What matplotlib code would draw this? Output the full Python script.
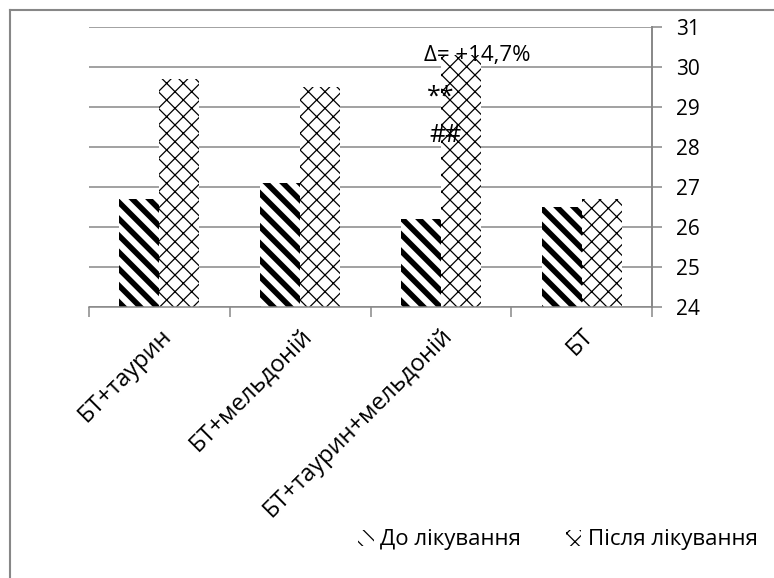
import numpy as np
import matplotlib
matplotlib.use('Agg')
import matplotlib.pyplot as plt
from matplotlib.lines import Line2D

plt.rcParams['font.family'] = ['Open Sans', 'DejaVu Sans']

categories = ['БТ+таурин', 'БТ+мельдоній', 'БТ+таурин+мельдоній', 'БТ']
before = [26.7, 27.1, 26.2, 26.5]
after = [29.7, 29.5, 30.3, 26.7]
series_names = ['До лікування', 'Після лікування']
yticks = [24, 25, 26, 27, 28, 29, 30, 31]

fig = plt.figure(figsize=(7.74, 5.78), dpi=100)
ax = fig.add_axes([89/774, 1-307/578, (652-89)/774, 280/578])

x = np.arange(len(categories))
w = 0.284
grey = '#878787'

ax.set_ylim(24, 31)
ax.set_xlim(-0.5, 3.5)
ax.set_yticks(yticks)
ax.yaxis.grid(True, color=grey, linewidth=1.1)
ax.set_axisbelow(True)

# thick diagonal stripes for "before", fine cross-hatch for "after"
plt.rcParams['hatch.linewidth'] = 4.0
b1 = ax.bar(x - w/2, before, w, color='white', edgecolor='black',
            linewidth=0, hatch='\\\\')
plt.rcParams['hatch.linewidth'] = 0.9
b2 = ax.bar(x + w/2, after, w, color='white', edgecolor='black',
            linewidth=0, hatch='xx')

# annotations over the third group
ax.text(2 - 0.12, 30.3, 'Δ= +14,7%', fontsize=16, ha='left', va='center')
ax.text(2, 29.25, '**', fontsize=18, ha='center', va='center')
ax.text(2.03, 28.3, '##', fontsize=18, ha='center', va='center')

ax.yaxis.tick_right()
ax.tick_params(axis='y', length=7, color=grey, width=1.1, labelsize=15, pad=10)
ax.set_xticks(np.arange(-0.5, 4, 1))
ax.set_xticklabels([])
ax.tick_params(axis='x', which='major', length=7, color=grey, width=1.1)
ax.set_xticks(x, minor=True)
ax.set_xticklabels(categories, minor=True, rotation=45, ha='right', va='top',
                   rotation_mode='anchor', fontsize=17)
ax.tick_params(axis='x', which='minor', length=0, pad=12)

for s in ['top', 'left']:
    ax.spines[s].set_visible(False)
ax.spines['bottom'].set_color(grey)
ax.spines['bottom'].set_linewidth(1.1)
ax.spines['right'].set_color(grey)
ax.spines['right'].set_linewidth(1.4)

fig.legend([b1, b2], series_names, loc='center', bbox_to_anchor=(558/774, 1-540/578),
           ncol=2, frameon=False, fontsize=16, handlelength=0.7, handleheight=0.7,
           handletextpad=0.3, columnspacing=2.0)

# outer chart frame (only left and top edges fall inside the image)
fig.add_artist(Line2D([10/774, 10/774], [-0.1, 1-10/578], color=grey, lw=1.5))
fig.add_artist(Line2D([10/774, 1.1], [1-10/578, 1-10/578], color=grey, lw=1.5))

fig.savefig('out.png', dpi=100)
